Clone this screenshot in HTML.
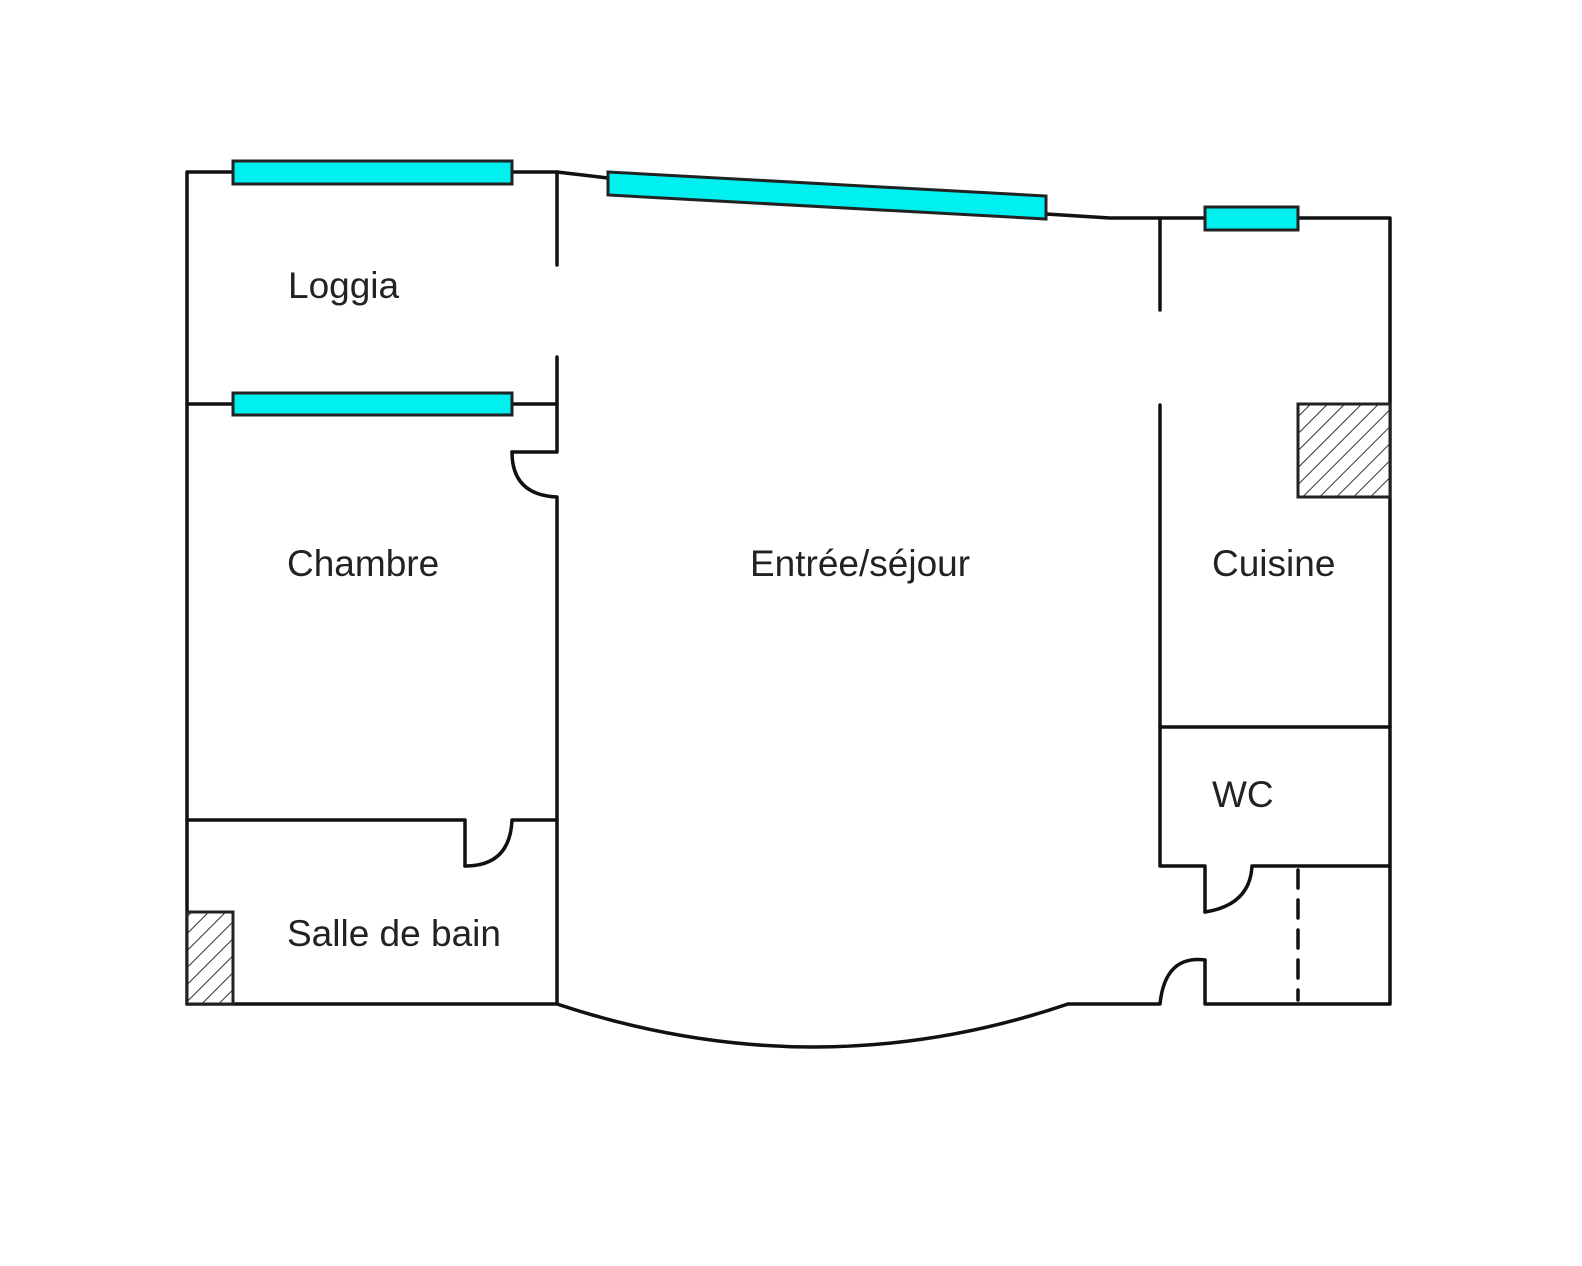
<!DOCTYPE html>
<html><head><meta charset="utf-8"><style>
html,body{margin:0;padding:0;background:#fff;}
svg{display:block;}
text{font-family:"Liberation Sans",Arial,sans-serif;font-size:37px;fill:#222;}
</style></head><body>
<svg width="1582" height="1266" viewBox="0 0 1582 1266" xmlns="http://www.w3.org/2000/svg">
<defs>
<pattern id="h" width="12" height="12" patternUnits="userSpaceOnUse" patternTransform="rotate(45)">
<rect width="12" height="12" fill="#fff"/><line x1="0" y1="0" x2="0" y2="12" stroke="#333" stroke-width="2"/>
</pattern>
</defs>
<g fill="none" stroke="#111" stroke-width="3.5" stroke-linecap="round" stroke-linejoin="round">
<polyline points="187,1004 187,172 233,172"/>
<polyline points="512,172 557,172 608,178"/>
<polyline points="1046,214 1110,218 1205,218"/>
<polyline points="1298,218 1390,218 1390,1004 1205,1004 1205,960"/>
<path d="M1205,960 Q1165,955 1160,1004 L1068,1004"/>
<path d="M1068,1004 Q815,1090 557,1004 L187,1004"/>
<line x1="557" y1="172" x2="557" y2="265"/>
<polyline points="557,357 557,452 512,452"/>
<path d="M512,452 Q512,495 557,497 L557,1004"/>
<line x1="187" y1="404" x2="233" y2="404"/>
<line x1="512" y1="404" x2="557" y2="404"/>
<polyline points="187,820 465,820 465,866"/>
<path d="M465,866 Q510,866 512,820 L557,820"/>
<line x1="1160" y1="218" x2="1160" y2="310"/>
<polyline points="1160,405 1160,866 1205,866 1205,912"/>
<path d="M1205,912 Q1250,905 1252,866 L1390,866"/>
<line x1="1160" y1="727" x2="1390" y2="727"/>
<line x1="1298" y1="870" x2="1298" y2="1000" stroke-dasharray="18,12"/>
</g>
<g fill="#00f0f0" stroke="#222" stroke-width="3">
<rect x="233" y="161" width="279" height="23"/>
<rect x="233" y="393" width="279" height="22"/>
<polygon points="608,172 1046,196 1046,219 608,195"/>
<rect x="1205" y="207" width="93" height="23"/>
</g>
<g fill="url(#h)" stroke="#222" stroke-width="3">
<rect x="187" y="912" width="46" height="92"/>
<rect x="1298" y="404" width="92" height="93"/>
</g>
<text x="288" y="298">Loggia</text>
<text x="287" y="576">Chambre</text>
<text x="750" y="576">Entrée/séjour</text>
<text x="1212" y="576">Cuisine</text>
<text x="1212" y="807">WC</text>
<text x="287" y="946">Salle de bain</text>
</svg>
</body></html>
